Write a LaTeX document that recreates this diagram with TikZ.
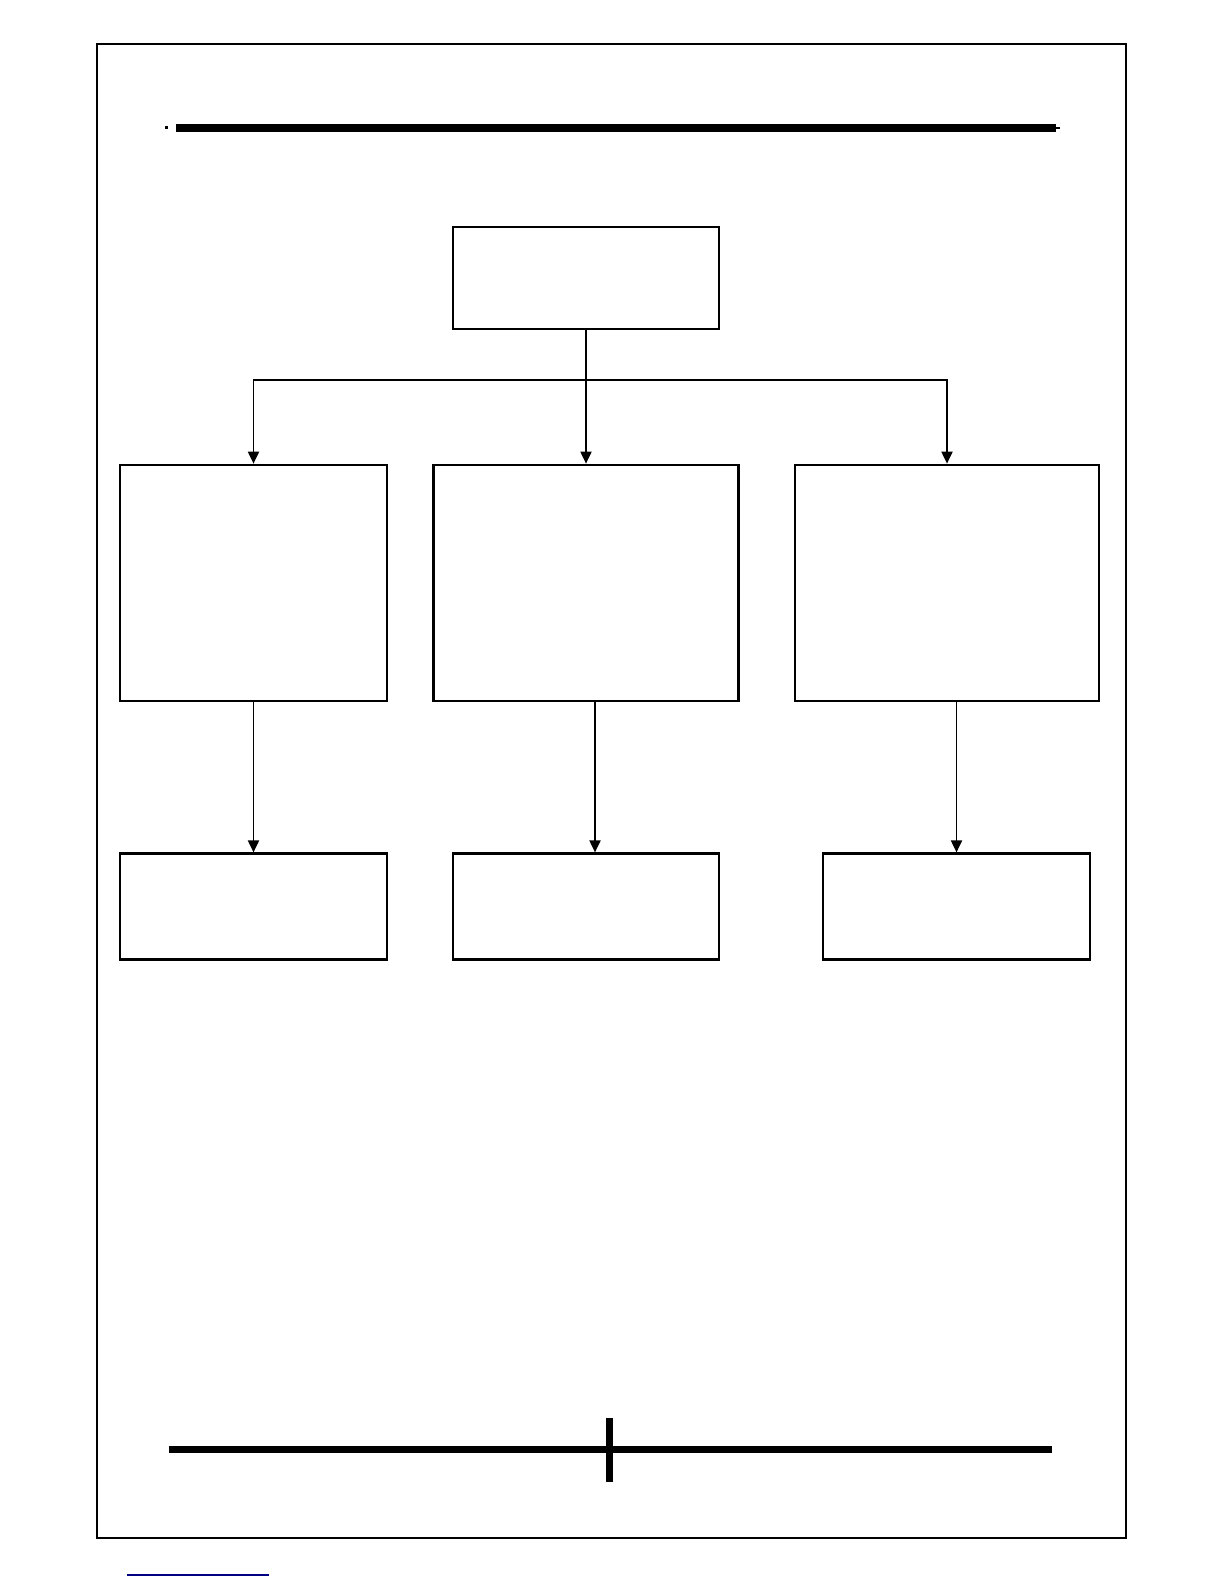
\documentclass[tikz,border=0pt]{standalone}
\usepackage{tikz}
\usepackage{xcolor}
\usetikzlibrary{arrows.meta,positioning}

\tikzset{
	box/.style={draw=black, line width=2.2pt, rectangle, inner sep=0pt},
	link/.style={line width=1.9pt, -{Triangle[length=12pt,width=11pt]}},
	bar/.style={line width=7.5pt}
}

\begin{document}
\begin{tikzpicture}[x=1pt,y=-1pt]

	% page frame
	\draw[line width=1.6pt] (97,44) rectangle (1126,1538);

	% top rule
	\draw[bar] (176,128) -- (1056,128);
	\fill (164.5,126.5) rectangle (167.5,129.5);
	\draw[line width=2pt] (1056,128) -- (1059.5,128);

	% boxes
	\node[box, minimum width=266.5pt, minimum height=102pt] (top) at (586,278) {};

	\node[box, minimum width=266.5pt, minimum height=236.5pt] (left) at (253.5,583) {};
	\node[box, minimum width=305pt, minimum height=236.5pt] (mid) at (586,583) {};
	\node[box, minimum width=304pt, minimum height=236.5pt] (right) at (947,583) {};

	\node[box, minimum width=266.5pt, minimum height=106pt] (leftlow) at (253.5,906.5) {};
	\node[box, minimum width=266.5pt, minimum height=106pt] (midlow) at (586,906.5) {};
	\node[box, minimum width=266.5pt, minimum height=106pt] (rightlow) at (956.5,906.5) {};

	% connectors
	\coordinate (split) at (586,380);
	\draw[link] (top.south) -- (mid.north);
	\draw[link] (split) -| (left.north);
	\draw[link] (split) -| (right.north);

	\draw[link] (left.south) -- (leftlow.north);
	\draw[link] ([xshift=9pt]mid.south) -- ([xshift=9pt]midlow.north);
	\draw[link] (rightlow.north |- right.south) -- (rightlow.north);

	% bottom rule
	\draw[bar] (168.5,1449.5) -- (1051.5,1449.5);
	\draw[bar] (609.5,1418) -- (609.5,1482);

	% link line
	\draw[line width=1.6pt, color=blue!50!black] (127,1575) -- (269,1575);

	\pgfresetboundingbox
	\useasboundingbox (0,0) rectangle (1224,1584);

\end{tikzpicture}
\end{document}
